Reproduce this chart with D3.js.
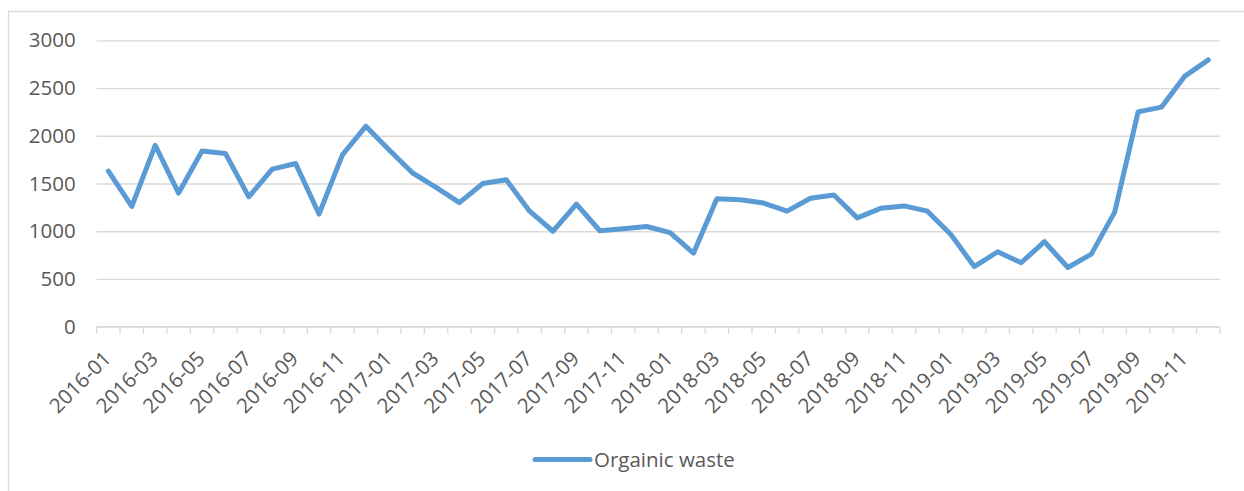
<!DOCTYPE html>
<html>
<head>
<meta charset="utf-8">
<script src="https://cdn.jsdelivr.net/npm/d3@7.9.0/dist/d3.min.js"></script>
<style>
  body { margin: 0; background: #fff; }
  text { font-family: "Open Sans", "Noto Sans", sans-serif; fill: #595959; }
</style>
</head>
<body>
<svg id="chart" width="1244" height="491"></svg>
<script>
// months on the category axis
const months = [
  "2016-01","2016-02","2016-03","2016-04","2016-05","2016-06","2016-07","2016-08","2016-09","2016-10","2016-11","2016-12",
  "2017-01","2017-02","2017-03","2017-04","2017-05","2017-06","2017-07","2017-08","2017-09","2017-10","2017-11","2017-12",
  "2018-01","2018-02","2018-03","2018-04","2018-05","2018-06","2018-07","2018-08","2018-09","2018-10","2018-11","2018-12",
  "2019-01","2019-02","2019-03","2019-04","2019-05","2019-06","2019-07","2019-08","2019-09","2019-10","2019-11","2019-12"
];

// organic waste per month
const organicWaste = [
  1630, 1260, 1900, 1400, 1840, 1815, 1360, 1650, 1710, 1180, 1800, 2100,
  1850, 1610, 1460, 1300, 1500, 1540, 1210, 1000, 1285, 1005, 1025, 1050,
  985, 770, 1340, 1330, 1295, 1210, 1345, 1380, 1140, 1240, 1265, 1210,
  965, 630, 785, 670, 890, 620, 760, 1200, 2250, 2300, 2625, 2795
];

const yTicks = [0, 500, 1000, 1500, 2000, 2500, 3000];
const seriesName = "Orgainic waste";

const svg = d3.select("#chart");
const plotLeft = 96.7, plotRight = 1220, plotTop = 40.3, plotBottom = 326.7;
const blue = "#5B9BD5", grid = "#d9d9d9";
const fontSize = "20.5px";

// chart area border
svg.append("rect")
  .attr("x", 8.5).attr("y", 11.5)
  .attr("width", 1400).attr("height", 600)
  .attr("fill", "none")
  .attr("stroke", grid)
  .attr("stroke-width", 1.3);

const x = d3.scaleBand().domain(months).range([plotLeft, plotRight]);
const y = d3.scaleLinear().domain([0, 3000]).range([plotBottom, plotTop]);

// ** gridlines + y labels **
const yAxis = svg.append("g")
  .attr("transform", `translate(${plotLeft},0)`)
  .call(d3.axisLeft(y).tickValues(yTicks).tickFormat(d3.format("d"))
    .tickSize(-(plotRight - plotLeft)).tickPadding(21));
yAxis.select(".domain").remove();
yAxis.selectAll(".tick line").attr("stroke", grid).attr("stroke-width", 1.3);
yAxis.selectAll(".tick text")
  .style("font-size", fontSize)
  .style("font-family", "'Open Sans', sans-serif")
  .attr("fill", "#595959");

// ** category axis line and tick marks at the category boundaries **
svg.append("line")
  .attr("x1", plotLeft).attr("x2", plotRight)
  .attr("y1", y(0)).attr("y2", y(0))
  .attr("stroke", grid).attr("stroke-width", 1.3);

const bounds = months.map(m => x(m)).concat([x.range()[1]]);
svg.append("g").selectAll("line")
  .data(bounds)
  .join("line")
  .attr("x1", d => d).attr("x2", d => d)
  .attr("y1", y(0)).attr("y2", y(0) + 7)
  .attr("stroke", grid).attr("stroke-width", 1.3);

// ** rotated month labels, every second month **
svg.append("g").selectAll("text")
  .data(months.filter((m, i) => i % 2 === 0))
  .join("text")
  .attr("transform", d => `translate(${x(d) + x.bandwidth() / 2 + 4},360) rotate(-45)`)
  .attr("text-anchor", "end")
  .style("font-size", fontSize)
  .text(d => d);

// ** the line **
const line = d3.line()
  .x((d, i) => x(months[i]) + x.bandwidth() / 2)
  .y(d => y(d));

svg.append("path")
  .datum(organicWaste)
  .attr("d", line)
  .attr("fill", "none")
  .attr("stroke", blue)
  .attr("stroke-width", 5)
  .attr("stroke-linejoin", "round")
  .attr("stroke-linecap", "round");

// ** legend **
const legend = svg.append("g").attr("transform", "translate(535,459.5)");
legend.append("line")
  .attr("x1", 0).attr("x2", 55)
  .attr("stroke", blue).attr("stroke-width", 5)
  .attr("stroke-linecap", "round");
legend.append("text")
  .attr("x", 59).attr("y", 7)
  .style("font-size", fontSize)
  .text(seriesName);
</script>
</body>
</html>
